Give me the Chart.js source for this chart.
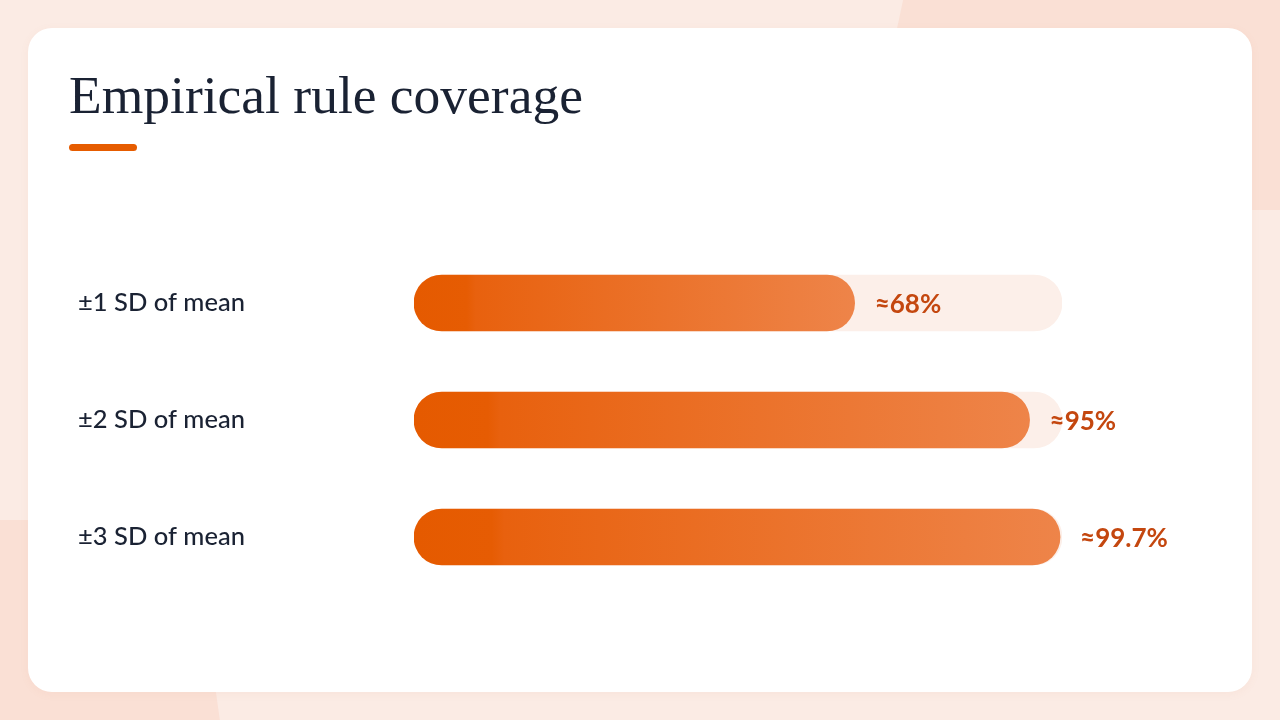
<!DOCTYPE html>
<html>
<head>
<meta charset="utf-8">
<script src="https://cdn.jsdelivr.net/npm/chart.js@4.4.1/dist/chart.umd.min.js"></script>
<style>
  html, body { margin: 0; padding: 0; width: 1280px; height: 720px; overflow: hidden; }
  body { background: #fbebe4; position: relative; font-family: Lato, "Noto Sans", sans-serif; }
  .blob1 { position: absolute; left: 885px; top: -40px; width: 460px; height: 250px; background: #fae0d5; border-radius: 0 0 0 60px; transform: skewX(-12deg); }
  .blob2 { position: absolute; left: -60px; top: 520px; width: 270px; height: 260px; background: #fae0d5; transform: skewX(8deg); border-radius: 0 40px 0 0; }
  .card { position: absolute; left: 28px; top: 28px; width: 1224px; height: 664px; background: #ffffff; border-radius: 24px; box-shadow: 0 2px 10px rgba(200,120,90,0.06); }
  h1 { position: absolute; left: 69px; top: 65px; margin: 0; font-family: "Liberation Serif", "DejaVu Serif", serif; font-weight: 400; font-size: 53.5px; line-height: 60px; color: #1a2233; }
  .accent { position: absolute; left: 69px; top: 144px; width: 68px; height: 7px; border-radius: 4px; background: #e65c00; }
  #wrap { position: absolute; left: 28px; top: 170px; width: 1224px; height: 522px; }
</style>
</head>
<body>
<div class="blob1"></div>
<div class="blob2"></div>
<div class="card"></div>
<h1>Empirical rule coverage</h1>
<div class="accent"></div>
<div id="wrap"><canvas id="c"></canvas></div>
<script>
const categories = ["±1 SD of mean", "±2 SD of mean", "±3 SD of mean"];
const coverage = [68, 95, 99.7];
const valueLabels = ["≈68%", "≈95%", "≈99.7%"];
const trackValues = [100, 100, 100];

function barGradient(ctx) {
  const chart = ctx.chart;
  const xs = chart.scales && chart.scales.x;
  if (!xs || !chart.chartArea || ctx.type !== 'data') return '#e96a1c';
  const x0 = xs.getPixelForValue(0);
  const x1 = xs.getPixelForValue(ctx.raw);
  if (!isFinite(x0) || !isFinite(x1) || x1 <= x0) return '#e96a1c';
  const g = chart.ctx.createLinearGradient(x0, 0, x1, 0);
  g.addColorStop(0, '#e55a00');
  g.addColorStop(0.12, '#e65c03');
  g.addColorStop(0.14, '#e8610e');
  g.addColorStop(1, '#ee8449');
  return g;
}

const valueLabelPlugin = {
  id: 'valueLabels',
  afterDatasetsDraw(chart) {
    const meta = chart.getDatasetMeta(0);
    const c = chart.ctx;
    c.save();
    c.font = 'bold 26px Lato, "Noto Sans", sans-serif';
    c.fillStyle = '#c4470f';
    c.textAlign = 'left';
    c.textBaseline = 'middle';
    meta.data.forEach((bar, i) => {
      c.fillText(valueLabels[i], bar.x + 20, bar.y + 2);
    });
    c.restore();
  }
};

new Chart(document.getElementById('c'), {
  type: 'bar',
  data: {
    labels: categories,
    datasets: [
      {
        data: coverage,
        backgroundColor: barGradient,
        barThickness: 56,
        borderRadius: 28,
        borderSkipped: false,
        grouped: false,
        order: 1
      },
      {
        data: trackValues,
        backgroundColor: '#fcefe9',
        barThickness: 56,
        borderRadius: 28,
        borderSkipped: false,
        grouped: false,
        order: 2
      }
    ]
  },
  options: {
    indexAxis: 'y',
    responsive: true,
    maintainAspectRatio: false,
    animation: false,
    layout: { padding: { left: 50, right: 190, top: 74.5, bottom: 96.5 } },
    plugins: { legend: { display: false }, tooltip: { enabled: false } },
    scales: {
      x: { min: 0, max: 100, display: false },
      y: {
        grid: { display: false },
        border: { display: false },
        afterFit(scale) { scale.width = 336; },
        ticks: {
          crossAlign: 'far',
          padding: 0,
          color: '#1a2233',
          font: { family: 'Lato, "Noto Sans", sans-serif', size: 25.5, weight: '500' }
        }
      }
    }
  },
  plugins: [valueLabelPlugin]
});
</script>
</body>
</html>
